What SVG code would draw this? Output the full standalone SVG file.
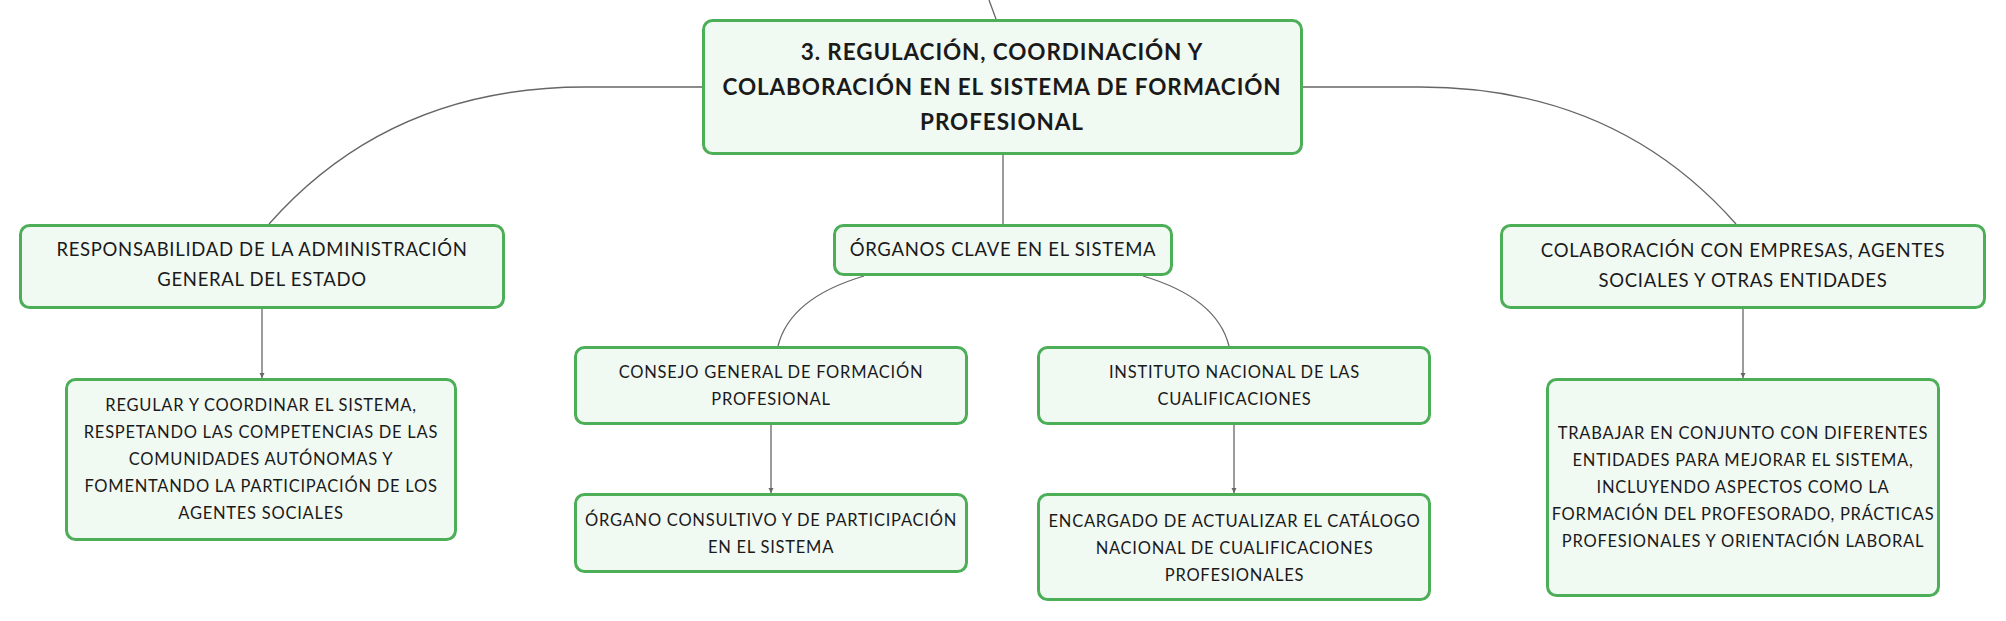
<svg xmlns="http://www.w3.org/2000/svg" width="2006" height="621" viewBox="0 0 2006 621">
<defs>
<marker id="arr" markerWidth="6" markerHeight="6" refX="5" refY="3" orient="auto" markerUnits="userSpaceOnUse">
<path d="M0,0.5 L5,3 L0,5.5 Z" fill="#666"/>
</marker>
</defs>
<style>
.box{fill:#f1f9f3;stroke:#4caf58;stroke-width:3}
.t{font-family:Lato,"Liberation Sans",sans-serif;fill:#1a1a1a;text-anchor:middle}
.title{font-size:22.5px;font-weight:bold;letter-spacing:0.9px}
.l1{font-size:18.5px;letter-spacing:0.7px}
.l2{font-size:16.5px;letter-spacing:0.75px}
.c{fill:none;stroke:#666;stroke-width:1.3}
</style>
<rect width="2006" height="621" fill="#ffffff"/>
<g id="connectors">
<path class="c" d="M989,0 L996,19"/>
<path class="c" d="M702,87 L585,87 Q390,87 269,224"/>
<path class="c" d="M1303,87 L1420,87 Q1615,87 1736,224"/>
<path class="c" d="M1003,155 L1003,224"/>
<path class="c" d="M864,276 Q790,298 778,346"/>
<path class="c" d="M1143,276 Q1217,298 1229,346"/>
<path class="c" d="M262,309 L262,378" marker-end="url(#arr)"/>
<path class="c" d="M771,425 L771,493" marker-end="url(#arr)"/>
<path class="c" d="M1234,425 L1234,493" marker-end="url(#arr)"/>
<path class="c" d="M1743,309 L1743,378" marker-end="url(#arr)"/>
</g>
<g id="main">
<rect class="box" x="703.5" y="20.5" width="598" height="133" rx="9"/>
<text class="t title" x="1002" y="60">3. REGULACIÓN, COORDINACIÓN Y</text>
<text class="t title" x="1002" y="95">COLABORACIÓN EN EL SISTEMA DE FORMACIÓN</text>
<text class="t title" x="1002" y="130">PROFESIONAL</text>
</g>
<g id="responsabilidad">
<rect class="box" x="20.5" y="225.5" width="483" height="82" rx="9"/>
<text class="t l1" x="262" y="256">RESPONSABILIDAD DE LA ADMINISTRACIÓN</text>
<text class="t l1" x="262" y="286">GENERAL DEL ESTADO</text>
</g>
<g id="organos">
<rect class="box" x="834.5" y="225.5" width="337" height="49" rx="9"/>
<text class="t l1" x="1003" y="256">ÓRGANOS CLAVE EN EL SISTEMA</text>
</g>
<g id="colaboracion">
<rect class="box" x="1501.5" y="225.5" width="483" height="82" rx="9"/>
<text class="t l1" x="1743" y="257">COLABORACIÓN CON EMPRESAS, AGENTES</text>
<text class="t l1" x="1743" y="287">SOCIALES Y OTRAS ENTIDADES</text>
</g>
<g id="regular">
<rect class="box" x="66.5" y="379.5" width="389" height="160" rx="9"/>
<text class="t l2" x="261" y="411">REGULAR Y COORDINAR EL SISTEMA,</text>
<text class="t l2" x="261" y="438">RESPETANDO LAS COMPETENCIAS DE LAS</text>
<text class="t l2" x="261" y="465">COMUNIDADES AUTÓNOMAS Y</text>
<text class="t l2" x="261" y="492">FOMENTANDO LA PARTICIPACIÓN DE LOS</text>
<text class="t l2" x="261" y="519">AGENTES SOCIALES</text>
</g>
<g id="consejo">
<rect class="box" x="575.5" y="347.5" width="391" height="76" rx="9"/>
<text class="t l2" x="771" y="378">CONSEJO GENERAL DE FORMACIÓN</text>
<text class="t l2" x="771" y="405">PROFESIONAL</text>
</g>
<g id="instituto">
<rect class="box" x="1038.5" y="347.5" width="391" height="76" rx="9"/>
<text class="t l2" x="1234.5" y="378">INSTITUTO NACIONAL DE LAS</text>
<text class="t l2" x="1234.5" y="405">CUALIFICACIONES</text>
</g>
<g id="consultivo">
<rect class="box" x="575.5" y="494.5" width="391" height="77" rx="9"/>
<text class="t l2" x="771" y="526">ÓRGANO CONSULTIVO Y DE PARTICIPACIÓN</text>
<text class="t l2" x="771" y="553">EN EL SISTEMA</text>
</g>
<g id="encargado">
<rect class="box" x="1038.5" y="494.5" width="391" height="105" rx="9"/>
<text class="t l2" x="1234.5" y="527">ENCARGADO DE ACTUALIZAR EL CATÁLOGO</text>
<text class="t l2" x="1234.5" y="554">NACIONAL DE CUALIFICACIONES</text>
<text class="t l2" x="1234.5" y="581">PROFESIONALES</text>
</g>
<g id="trabajar">
<rect class="box" x="1547.5" y="379.5" width="391" height="216" rx="9"/>
<text class="t l2" x="1743" y="439">TRABAJAR EN CONJUNTO CON DIFERENTES</text>
<text class="t l2" x="1743" y="466">ENTIDADES PARA MEJORAR EL SISTEMA,</text>
<text class="t l2" x="1743" y="493">INCLUYENDO ASPECTOS COMO LA</text>
<text class="t l2" x="1743" y="520">FORMACIÓN DEL PROFESORADO, PRÁCTICAS</text>
<text class="t l2" x="1743" y="547">PROFESIONALES Y ORIENTACIÓN LABORAL</text>
</g>
</svg>
